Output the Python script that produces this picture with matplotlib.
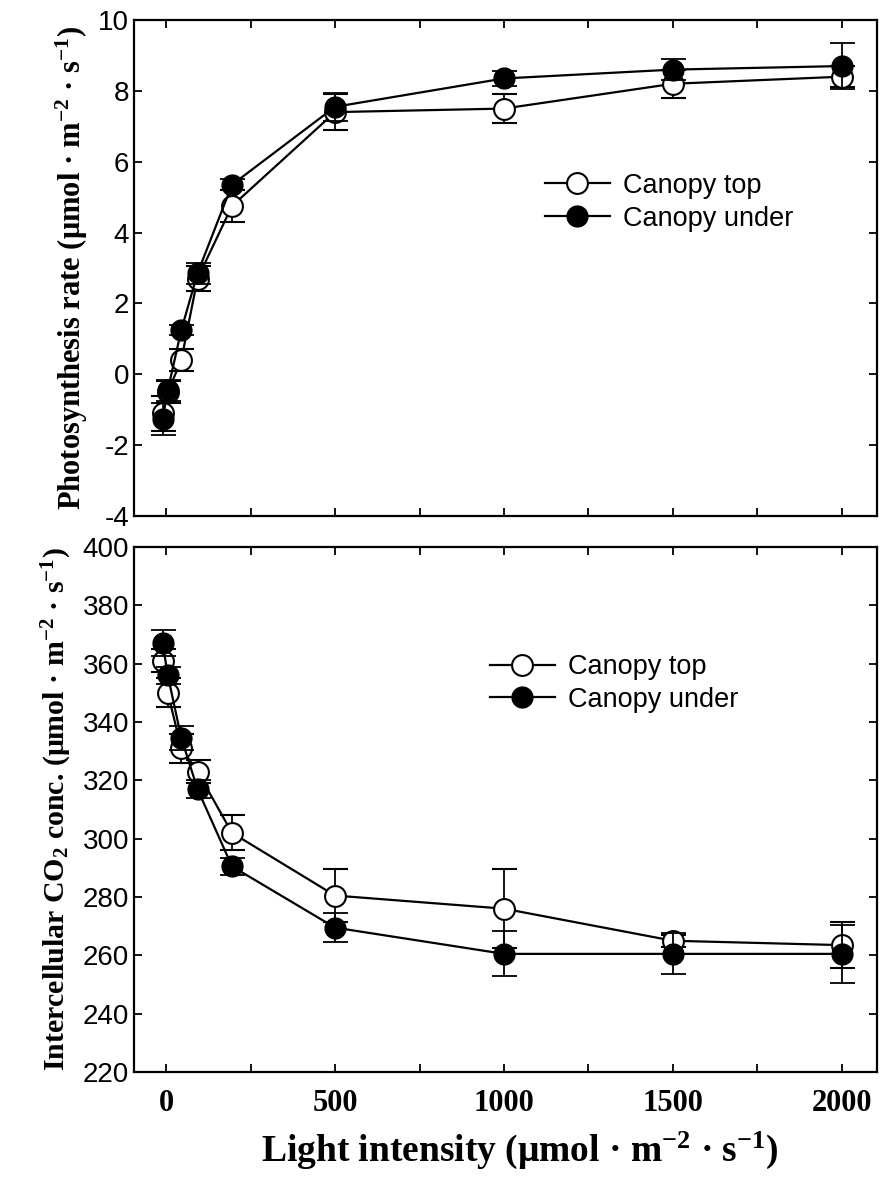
import matplotlib
matplotlib.use("Agg")
import matplotlib.pyplot as plt
from matplotlib.lines import Line2D
from matplotlib.ticker import MultipleLocator

# light levels (umol m-2 s-1) as plotted
light = [-10, 5, 45, 93, 195, 500, 1000, 1500, 2000]

# photosynthesis rate
pn_top = [-1.1, -0.5, 0.4, 2.7, 4.75, 7.4, 7.5, 8.2, 8.4]
pn_top_err = [0.5, 0.3, 0.3, 0.35, 0.45, 0.5, 0.4, 0.4, 0.3]
pn_under = [-1.25, -0.45, 1.25, 2.85, 5.35, 7.55, 8.35, 8.6, 8.7]
pn_under_err = [0.45, 0.3, 0.15, 0.3, 0.15, 0.4, 0.2, 0.3, 0.65]

# intercellular CO2 concentration
ci_top = [361, 350, 331, 323, 302, 280.5, 276, 265, 263.5]
ci_top_err = [4, 5, 5, 4, 6, 9, 13.5, 2, 8]
ci_under = [367, 356, 334.5, 317, 290.5, 269.5, 260.5, 260.5, 260.5]
ci_under_err = [4.5, 3, 4, 3, 3, 5, 7.7, 7, 10]

plt.rcParams['mathtext.fontset'] = 'custom'
plt.rcParams['mathtext.rm'] = 'Liberation Serif:bold'
plt.rcParams['mathtext.it'] = 'Liberation Serif:italic:bold'
plt.rcParams['mathtext.bf'] = 'Liberation Serif:bold'
plt.rcParams['axes.linewidth'] = 1.6
plt.rcParams['axes.unicode_minus'] = False

W, H = 883, 1180
fig = plt.figure(figsize=(W / 100, H / 100), dpi=100)
ax1 = fig.add_axes([134 / W, 1 - 516 / H, 743 / W, 496 / H])
ax2 = fig.add_axes([134 / W, 1 - 1072 / H, 743 / W, 525 / H])

serif_bold = dict(family='Liberation Serif', weight='bold')
MS = 15


def draw(ax, top, top_err, under, under_err):
    ax.errorbar(light, top, yerr=top_err, color='black', lw=1.6,
                marker='o', ms=MS, mfc='white', mec='black', mew=1.5,
                elinewidth=1.3, capsize=9, capthick=1.3, zorder=2)
    ax.errorbar(light, under, yerr=under_err, color='black', lw=1.6,
                marker='o', ms=MS, mfc='black', mec='black',
                elinewidth=1.3, capsize=9, capthick=1.3, zorder=3)
    ax.set_xlim(-95, 2104)
    ax.xaxis.set_major_locator(MultipleLocator(500))
    ax.xaxis.set_minor_locator(MultipleLocator(250))
    ax.tick_params(which='both', direction='in', top=True, right=True,
                   length=6, width=1.3, labelsize=20)


def add_legend(ax, anchor):
    handles = [
        Line2D([], [], color='black', lw=1.6, marker='o', ms=MS,
               mfc='white', mec='black', mew=1.5),
        Line2D([], [], color='black', lw=1.6, marker='o', ms=MS,
               mfc='black', mec='black'),
    ]
    ax.legend(handles, ['Canopy top', 'Canopy under'], loc='upper left',
              bbox_to_anchor=anchor, frameon=False, handlelength=2.4,
              handletextpad=0.5, labelspacing=0.25, borderpad=0,
              borderaxespad=0, prop={'family': 'Liberation Sans', 'size': 19.5})


draw(ax1, pn_top, pn_top_err, pn_under, pn_under_err)
ax1.set_ylim(-4, 10)
ax1.yaxis.set_major_locator(MultipleLocator(2))
ax1.tick_params(labelbottom=False)
for t in ax1.get_yticklabels():
    t.set_family('Liberation Sans')
ax1.set_ylabel('Photosynthesis rate (μmol · m$^{-2}$ · s$^{-1}$)',
               fontsize=22, labelpad=6, **serif_bold)
add_legend(ax1, (0.553, 0.692))

draw(ax2, ci_top, ci_top_err, ci_under, ci_under_err)
ax2.set_ylim(220, 400)
ax2.yaxis.set_major_locator(MultipleLocator(20))
for t in ax2.get_yticklabels():
    t.set_family('Liberation Sans')
for t in ax2.get_xticklabels():
    t.set_family('Liberation Serif')
    t.set_weight('bold')
    t.set_fontsize(22)
ax2.tick_params(axis='x', pad=12)
ax2.set_ylabel('Intercellular CO$_2$ conc. (μmol · m$^{-2}$ · s$^{-1}$)',
               fontsize=21.5, labelpad=6, **serif_bold)
ax2.set_xlabel('Light intensity (μmol · m$^{-2}$ · s$^{-1}$)',
               fontsize=27, labelpad=12, **serif_bold)
ax2.xaxis.set_label_coords(0.52, -0.11)
add_legend(ax2, (0.479, 0.796))

fig.savefig('out.png', dpi=100)
